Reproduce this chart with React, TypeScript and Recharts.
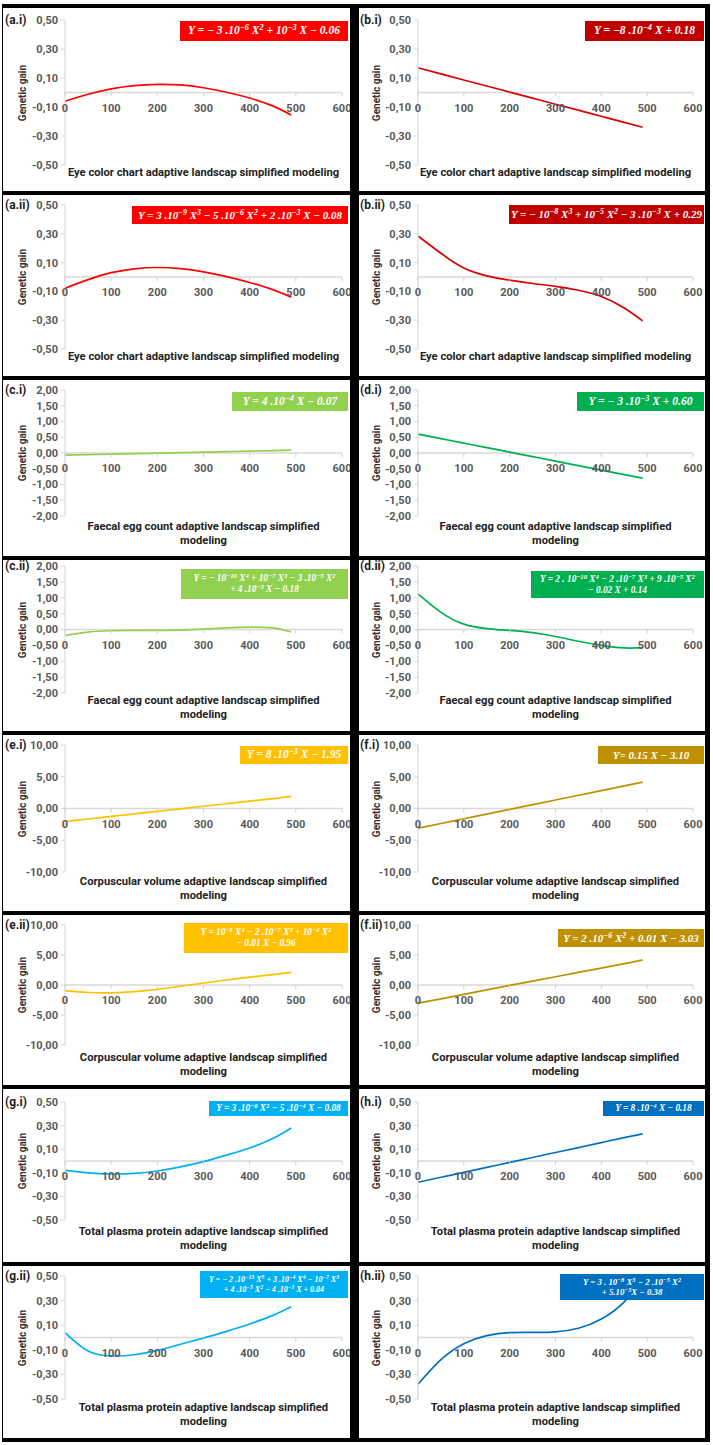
import React from "react";
import { LineChart, Line, XAxis, YAxis, ReferenceLine } from "recharts";

// x positions sampled along every curve
const X_VALUES = [0, 50, 100, 150, 200, 250, 300, 350, 400, 450, 490];
const X_TICKS = [0, 100, 200, 300, 400, 500, 600];

const TICKS_SMALL = [-0.5, -0.3, -0.1, 0.1, 0.3, 0.5];
const TICKS_MID = [-2, -1.5, -1, -0.5, 0, 0.5, 1, 1.5, 2];
const TICKS_WIDE = [-10, -5, 0, 5, 10];

// genetic gain
const A1_GAIN = [-0.06, -0.012, 0.025, 0.047, 0.056, 0.052, 0.033, 0.002, -0.038, -0.092, -0.155];
const B1_GAIN = [0.17, 0.128, 0.086, 0.045, 0.003, -0.039, -0.081, -0.122, -0.164, -0.206, -0.24];
const A2_GAIN = [-0.078, -0.018, 0.03, 0.057, 0.066, 0.058, 0.036, 0.003, -0.038, -0.088, -0.14];
const B2_GAIN = [0.285, 0.165, 0.062, 0.008, -0.022, -0.045, -0.065, -0.092, -0.135, -0.215, -0.305];
const C1_GAIN = [-0.07, -0.054, -0.038, -0.021, -0.005, 0.011, 0.027, 0.044, 0.06, 0.076, 0.09];
const D1_GAIN = [0.6, 0.457, 0.314, 0.171, 0.029, -0.114, -0.257, -0.4, -0.543, -0.686, -0.8];
const C2_GAIN = [-0.19, -0.08, -0.04, -0.03, -0.03, -0.02, 0.01, 0.05, 0.075, 0.05, -0.08];
const D2_GAIN = [1.12, 0.54, 0.17, 0.03, -0.03, -0.1, -0.22, -0.37, -0.5, -0.58, -0.57];
const E1_GAIN = [-2.05, -1.65, -1.25, -0.85, -0.45, -0.05, 0.35, 0.75, 1.15, 1.55, 1.92];
const F1_GAIN = [-3.1, -2.36, -1.62, -0.88, -0.14, 0.6, 1.34, 2.08, 2.82, 3.56, 4.15];
const E2_GAIN = [-0.95, -1.25, -1.3, -1.1, -0.72, -0.2, 0.33, 0.83, 1.3, 1.73, 2.1];
const F2_GAIN = [-3.03, -2.3, -1.55, -0.8, -0.07, 0.65, 1.37, 2.1, 2.82, 3.55, 4.2];
const G1_GAIN = [-0.08, -0.1, -0.11, -0.105, -0.085, -0.05, -0.005, 0.05, 0.11, 0.19, 0.28];
const H1_GAIN = [-0.18, -0.138, -0.096, -0.054, -0.012, 0.03, 0.072, 0.114, 0.156, 0.198, 0.23];
const G2_GAIN = [0.04, -0.11, -0.15, -0.14, -0.105, -0.055, -0.005, 0.05, 0.11, 0.18, 0.25];
const H2_GAIN = [-0.38, -0.18, -0.05, 0.015, 0.04, 0.042, 0.046, 0.075, 0.15, 0.29, 0.48];

const TITLE_EYE = ["Eye color chart adaptive landscap simplified modeling"];
const TITLE_FAECAL = ["Faecal egg count adaptive landscap simplified", "modeling"];
const TITLE_VOLUME = ["Corpuscular volume adaptive landscap simplified", "modeling"];
const TITLE_PROTEIN = ["Total plasma protein adaptive landscap simplified", "modeling"];

// ^{..} marks a superscript
const EQ_A1 = ["Y = − 3 .10^{−6} X^{2} + 10^{−3} X − 0.06"];
const EQ_B1 = ["Y = −8 .10^{−4} X + 0.18"];
const EQ_A2 = ["Y = 3 .10^{−9} X^{3} − 5 .10^{−6} X^{2} + 2 .10^{−3} X − 0.08"];
const EQ_B2 = ["Y = − 10^{−8} X^{3} + 10^{−5} X^{2} − 3 .10^{−3} X + 0.29"];
const EQ_C1 = ["Y = 4 .10^{−4} X − 0.07"];
const EQ_D1 = ["Y = − 3 .10^{−3} X + 0.60"];
const EQ_C2 = ["Y = − 10^{−10} X^{4} + 10^{−7} X^{3} − 3 .10^{−5} X^{2}", "+ 4 .10^{−3} X − 0.18"];
const EQ_D2 = ["Y = 2 . 10^{−10} X^{4} − 2 .10^{−7} X^{3} + 9 .10^{−5} X^{2}", "− 0.02 X + 0.14"];
const EQ_E1 = ["Y = 8 .10^{−3} X − 1.95"];
const EQ_F1 = ["Y= 0.15 X − 3.10"];
const EQ_E2 = ["Y = 10^{−8} X^{4} − 2 .10^{−7} X^{3} + 10^{−4} X^{2}", "− 0.01 X − 0.96"];
const EQ_F2 = ["Y = 2 .10^{−6} X^{2} + 0.01 X − 3.03"];
const EQ_G1 = ["Y = 3 .10^{−6} X^{2} − 5 .10^{−4} X − 0.08"];
const EQ_H1 = ["Y = 8 .10^{−4} X − 0.18"];
const EQ_G2 = ["Y = − 2 .10^{−13} X^{5} + 3 .10^{−4} X^{4} − 10^{−7} X^{3}", "+ 4 .10^{−5} X^{2} − 4 .10^{−3} X + 0.04"];
const EQ_H2 = ["Y = 3 . 10^{−8} X^{3} − 2 .10^{−5} X^{2}", "+ 5.10^{−3}X − 0.38"];

const TEXT_FONT = "Roboto, sans-serif";
const EQ_FONT = "'Liberation Serif', 'DejaVu Serif', serif";

const ROWS = [
  { h: 183, top: 12, bottom: 157, titleY: 165 },
  { h: 181, top: 10, bottom: 154, titleY: 162 },
  { h: 176, top: 10, bottom: 136, titleY: 147 },
  { h: 171, top: 6, bottom: 133, titleY: 141 },
  { h: 176, top: 10, bottom: 137, titleY: 147 },
  { h: 170, top: 10, bottom: 130, titleY: 143 },
  { h: 173, top: 13, bottom: 131, titleY: 143 },
  { h: 172, top: 10, bottom: 133, titleY: 142 },
];

const PANELS = [
  [
    { label: "(a.i)", values: A1_GAIN, color: "#ff0000", box: "#ff0000", ticks: TICKS_SMALL, eq: EQ_A1, title: TITLE_EYE, bw: 168, bh: 20, bt: 13, fs: 11.5 },
    { label: "(b.i)", values: B1_GAIN, color: "#d80000", box: "#c00000", ticks: TICKS_SMALL, eq: EQ_B1, title: TITLE_EYE, bw: 119, bh: 20, bt: 13, fs: 11.5 },
  ],
  [
    { label: "(a.ii)", values: A2_GAIN, color: "#ff0000", box: "#ff0000", ticks: TICKS_SMALL, eq: EQ_A2, title: TITLE_EYE, bw: 216, bh: 18, bt: 11, fs: 11 },
    { label: "(b.ii)", values: B2_GAIN, color: "#d80000", box: "#c00000", ticks: TICKS_SMALL, eq: EQ_B2, title: TITLE_EYE, bw: 195, bh: 19, bt: 10, fs: 11 },
  ],
  [
    { label: "(c.i)", values: C1_GAIN, color: "#92d050", box: "#92d050", ticks: TICKS_MID, eq: EQ_C1, title: TITLE_FAECAL, bw: 116, bh: 19, bt: 12, fs: 11.5 },
    { label: "(d.i)", values: D1_GAIN, color: "#00b050", box: "#00b050", ticks: TICKS_MID, eq: EQ_D1, title: TITLE_FAECAL, bw: 127, bh: 19, bt: 12, fs: 11.5 },
  ],
  [
    { label: "(c.ii)", values: C2_GAIN, color: "#92d050", box: "#92d050", ticks: TICKS_MID, eq: EQ_C2, title: TITLE_FAECAL, bw: 167, bh: 30, bt: 9, fs: 9.3 },
    { label: "(d.ii)", values: D2_GAIN, color: "#00b050", box: "#00b050", ticks: TICKS_MID, eq: EQ_D2, title: TITLE_FAECAL, bw: 173, bh: 27, bt: 11, fs: 9.3 },
  ],
  [
    { label: "(e.i)", values: E1_GAIN, color: "#ffc000", box: "#ffc000", ticks: TICKS_WIDE, eq: EQ_E1, title: TITLE_VOLUME, bw: 108, bh: 18, bt: 11, fs: 11.5 },
    { label: "(f.i)", values: F1_GAIN, color: "#bf9000", box: "#bf9000", ticks: TICKS_WIDE, eq: EQ_F1, title: TITLE_VOLUME, bw: 106, bh: 18, bt: 11, fs: 11 },
  ],
  [
    { label: "(e.ii)", values: E2_GAIN, color: "#ffc000", box: "#ffc000", ticks: TICKS_WIDE, eq: EQ_E2, title: TITLE_VOLUME, bw: 164, bh: 30, bt: 8, fs: 9.3 },
    { label: "(f.ii)", values: F2_GAIN, color: "#bf9000", box: "#bf9000", ticks: TICKS_WIDE, eq: EQ_F2, title: TITLE_VOLUME, bw: 146, bh: 18, bt: 14, fs: 11 },
  ],
  [
    { label: "(g.i)", values: G1_GAIN, color: "#00b0f0", box: "#00b0f0", ticks: TICKS_SMALL, eq: EQ_G1, title: TITLE_PROTEIN, bw: 139, bh: 15, bt: 12, fs: 9.3 },
    { label: "(h.i)", values: H1_GAIN, color: "#0070c0", box: "#0070c0", ticks: TICKS_SMALL, eq: EQ_H1, title: TITLE_PROTEIN, bw: 101, bh: 15, bt: 12, fs: 9.3 },
  ],
  [
    { label: "(g.ii)", values: G2_GAIN, color: "#00b0f0", box: "#00b0f0", ticks: TICKS_SMALL, eq: EQ_G2, title: TITLE_PROTEIN, bw: 148, bh: 27, bt: 5, fs: 8 },
    { label: "(h.ii)", values: H2_GAIN, color: "#0070c0", box: "#0070c0", ticks: TICKS_SMALL, eq: EQ_H2, title: TITLE_PROTEIN, bw: 144, bh: 26, bt: 8, fs: 8.8 },
  ],
];

const fmtTick = (v: number) => v.toFixed(2).replace(".", ",");

function EqLine({ text }: { text: string }) {
  const parts = text.split(/\^\{([^}]*)\}/);
  return (
    <div>
      {parts.map((p, i) =>
        i % 2 === 1 ? (
          <sup key={i} style={{ fontSize: "0.72em", verticalAlign: "0.45em", lineHeight: 0 }}>
            {p}
          </sup>
        ) : (
          <span key={i}>{p}</span>
        )
      )}
    </div>
  );
}

function Panel({ spec, row, col }: any) {
  const w = col === 0 ? 347 : 346;
  const plotLeft = col === 0 ? 62 : 59;
  const plotRight = col === 0 ? 339 : 334;
  const padBottom = 9;
  const chartH = row.bottom + padBottom + 1;
  const zeroY = (row.top + row.bottom) / 2;
  const data = X_VALUES.map((x, i) => ({ x, gain: spec.values[i] }));
  const ticks = spec.ticks;
  const center = (plotLeft + plotRight) / 2;

  const xTick = (p: any) => (
    <g>
      <line x1={p.x} x2={p.x} y1={zeroY} y2={zeroY + 4} stroke="#d0d0d0" />
      <text
        x={p.x}
        y={zeroY + 19}
        textAnchor="middle"
        fill="#595959"
        fontSize={11}
        fontWeight={700}
        fontFamily={TEXT_FONT}
      >
        {p.payload.value}
      </text>
    </g>
  );

  return (
    <div style={{ position: "relative", width: w, height: row.h, background: "#fff", overflow: "hidden" }}>
      <LineChart
        width={w}
        height={chartH}
        data={data}
        margin={{ top: row.top, right: w - plotRight, bottom: padBottom, left: 0 }}
      >
        <XAxis
          dataKey="x"
          type="number"
          domain={[0, 600]}
          ticks={X_TICKS}
          interval={0}
          axisLine={false}
          tickLine={false}
          height={1}
          tick={xTick}
        />
        <YAxis
          type="number"
          domain={[ticks[0], ticks[ticks.length - 1]]}
          ticks={ticks}
          interval={0}
          width={plotLeft}
          axisLine={{ stroke: "#d9d9d9", strokeWidth: 1.2 }}
          tickLine={{ stroke: "#d9d9d9" }}
          tickSize={4}
          tickMargin={3}
          tick={{ fill: "#595959", fontSize: 11, fontWeight: 700, fontFamily: TEXT_FONT }}
          tickFormatter={fmtTick}
        />
        <ReferenceLine y={0} stroke="#d9d9d9" strokeWidth={1.5} />
        <Line
          dataKey="gain"
          type="natural"
          stroke={spec.color}
          strokeWidth={1.7}
          dot={false}
          isAnimationActive={false}
        />
      </LineChart>

      <div
        style={{
          position: "absolute",
          left: col === 0 ? 2 : 1,
          top: row.top - 8,
          fontFamily: TEXT_FONT,
          fontWeight: 700,
          fontSize: 12,
          lineHeight: "16px",
          color: "#222",
        }}
      >
        {spec.label}
      </div>

      <div
        style={{
          position: "absolute",
          left: (col === 0 ? 19.5 : 18) - 40,
          top: zeroY - 7,
          width: 80,
          textAlign: "center",
          transform: "rotate(-90deg)",
          fontFamily: TEXT_FONT,
          fontWeight: 700,
          fontSize: 10,
          lineHeight: "14px",
          color: "#333",
        }}
      >
        Genetic gain
      </div>

      <div
        style={{
          position: "absolute",
          left: center - 170,
          width: 340,
          top: row.titleY - 7,
          textAlign: "center",
          fontFamily: TEXT_FONT,
          fontWeight: 700,
          fontSize: 11.2,
          lineHeight: "13.5px",
          color: "#222",
        }}
      >
        {spec.title.map((t: string) => (
          <div key={t}>{t}</div>
        ))}
      </div>

      <div
        style={{
          position: "absolute",
          right: col === 0 ? 2 : 1,
          top: spec.bt,
          width: spec.bw,
          height: spec.bh,
          background: spec.box,
          color: "#fff",
          display: "flex",
          flexDirection: "column",
          justifyContent: "center",
          alignItems: "center",
          fontFamily: EQ_FONT,
          fontStyle: "italic",
          fontWeight: 700,
          fontSize: spec.fs,
          lineHeight: 1.15,
          whiteSpace: "nowrap",
        }}
      >
        {spec.eq.map((t: string) => (
          <EqLine key={t} text={t} />
        ))}
      </div>
    </div>
  );
}

export default function App() {
  return (
    <div
      style={{
        position: "absolute",
        left: 2,
        top: 4,
        width: 702,
        background: "#000",
        padding: "4px 5px 4px 1px",
        display: "grid",
        gridTemplateColumns: "347px 346px",
        columnGap: 9,
        rowGap: 4,
      }}
    >
      {PANELS.map((pair, r) =>
        pair.map((spec, c) => <Panel key={spec.label} spec={spec} row={ROWS[r]} col={c} />)
      )}
    </div>
  );
}
